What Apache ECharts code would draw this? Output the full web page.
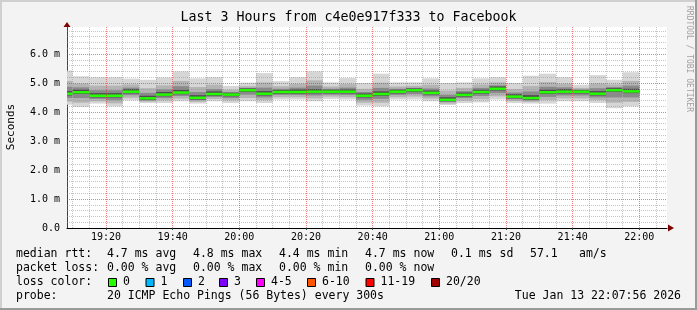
<!DOCTYPE html>
<html><head><meta charset="utf-8">
<script src="https://cdn.jsdelivr.net/npm/echarts@6/dist/echarts.min.js"></script>
<style>html,body{margin:0;padding:0;background:#f3f3f3;}#c{width:697px;height:310px;}</style>
</head><body><div id="c"></div>
<script>
// ---- data ----
const xStart = '19:08:18';
const xEnd = '22:08:18';
const stepEnds = ['19:10','19:15','19:20','19:25','19:30','19:35','19:40','19:45','19:50','19:55','20:00','20:05','20:10','20:15','20:20','20:25','20:30','20:35','20:40','20:45','20:50','20:55','21:00','21:05','21:10','21:15','21:20','21:25','21:30','21:35','21:40','21:45','21:50','21:55','22:00'];
const median  = [4.63,4.68,4.56,4.56,4.70,4.47,4.60,4.67,4.49,4.62,4.60,4.75,4.63,4.69,4.69,4.70,4.70,4.70,4.56,4.62,4.70,4.75,4.66,4.42,4.59,4.69,4.80,4.53,4.48,4.68,4.70,4.70,4.63,4.75,4.71];
const pingMax = [5.43,5.23,5.20,5.20,5.15,5.11,5.19,5.40,5.16,5.20,4.90,5.01,5.34,5.06,5.20,5.40,5.02,5.17,5.00,5.32,5.02,5.02,5.16,5.00,5.02,5.16,5.20,5.00,5.25,5.32,5.20,4.94,5.27,5.11,5.37];
const p90     = [5.07,4.98,4.91,4.91,4.95,4.82,4.92,5.07,4.86,4.94,4.77,4.89,5.02,4.89,4.97,5.09,4.88,4.96,4.80,5.01,4.88,4.90,4.94,4.74,4.83,4.95,5.02,4.79,4.90,5.03,4.97,4.83,4.98,4.95,5.07];
const p75     = [4.87,4.85,4.75,4.75,4.84,4.66,4.78,4.89,4.69,4.79,4.69,4.83,4.84,4.80,4.84,4.91,4.80,4.84,4.69,4.83,4.80,4.83,4.81,4.59,4.72,4.83,4.92,4.67,4.71,4.87,4.85,4.77,4.82,4.86,4.91];
const p60     = [4.72,4.77,4.65,4.65,4.79,4.56,4.69,4.76,4.58,4.71,4.66,4.81,4.72,4.76,4.78,4.79,4.77,4.78,4.64,4.71,4.77,4.81,4.74,4.51,4.67,4.77,4.88,4.62,4.58,4.77,4.79,4.76,4.72,4.82,4.80];
const p40     = [4.57,4.62,4.50,4.50,4.64,4.41,4.54,4.61,4.43,4.56,4.54,4.69,4.57,4.63,4.63,4.64,4.64,4.64,4.50,4.56,4.64,4.69,4.60,4.37,4.53,4.63,4.74,4.47,4.42,4.62,4.64,4.64,4.57,4.69,4.65];
const p25     = [4.48,4.48,4.45,4.41,4.58,4.40,4.48,4.55,4.41,4.52,4.48,4.60,4.50,4.59,4.59,4.57,4.60,4.59,4.42,4.45,4.59,4.62,4.54,4.35,4.48,4.55,4.65,4.44,4.40,4.52,4.57,4.57,4.50,4.50,4.50];
const p10     = [4.36,4.32,4.37,4.30,4.49,4.36,4.40,4.46,4.35,4.45,4.40,4.48,4.41,4.51,4.51,4.47,4.53,4.51,4.32,4.32,4.51,4.53,4.46,4.29,4.39,4.44,4.54,4.38,4.35,4.41,4.47,4.47,4.41,4.32,4.35];
const pingMin = [4.25,4.17,4.29,4.19,4.40,4.31,4.31,4.37,4.29,4.37,4.31,4.37,4.31,4.43,4.43,4.37,4.45,4.43,4.22,4.19,4.43,4.43,4.37,4.24,4.31,4.33,4.43,4.31,4.29,4.29,4.37,4.37,4.31,4.13,4.19];
const xTickLabels = ['19:20','19:40','20:00','20:20','20:40','21:00','21:20','21:40','22:00'];
const yTickLabels = ['0.0','1.0 m','2.0 m','3.0 m','4.0 m','5.0 m','6.0 m'];
const yMax = 6.93;
const titleText = 'Last 3 Hours from c4e0e917f333 to Facebook';
const rttStats = ['4.7 ms avg','4.8 ms max','4.4 ms min','4.7 ms now','0.1 ms sd','57.1','am/s'];
const lossStats = ['0.00 % avg','0.00 % max','0.00 % min','0.00 % now'];
const lossLegend = [['0','#26ff00'],['1','#00b8ff'],['2','#0059ff'],['3','#7e00ff'],['4-5','#ff00ff'],['6-10','#ff5500'],['11-19','#ff0000'],['20/20','#a10000']];
const probeText = '20 ICMP Echo Pings (56 Bytes) every 300s';
const dateText = 'Tue Jan 13 22:07:56 2026';

// ---- helpers ----
const toMin = s => { const p = s.split(':').map(Number); return p[0]*60 + p[1] + (p[2]||0)/60; };
const fmtMin = v => { const h = Math.floor(v/60), m = Math.round(v - h*60); return String(h).padStart(2,'0') + ':' + String(m).padStart(2,'0'); };
const xMin = toMin(xStart), xMax = toMin(xEnd);
const majorX = xTickLabels.map(toMin);
const minorX = [];
for (let t = Math.ceil(xMin/5)*5; t <= xMax; t += 5) if (t % 20 !== 0) minorX.push(t);
const majorY = [1,2,3,4,5,6];
const minorY = [];
for (let i = 1; i*0.2 < yMax; i++) if (i % 5 !== 0) minorY.push(+(i*0.2).toFixed(1));

const rows = stepEnds.map((s,i) => [toMin(s), pingMax[i], p90[i], p75[i], p60[i], p40[i], p25[i], p10[i], pingMin[i], median[i]]);
const FONT = 'DejaVu Sans Mono';
const smokeColors = ['#d6d6d6','#b4b4b4','#8a8a8a','#4e4e4e'];

function clipX(params, api, t) {
  const cs = params.coordSys;
  let x0 = api.coord([t-5, 0])[0], x1 = api.coord([t, 0])[0];
  x0 = Math.max(x0, cs.x); x1 = Math.min(x1, cs.x + cs.width);
  return [x0, x1];
}
function smokeRender(params, api) {
  const t = api.value(0);
  const [x0, x1] = clipX(params, api, t);
  const children = [];
  for (let k = 0; k < 4; k++) {
    const ya = api.coord([t, api.value(1+k)])[1];
    const yb = api.coord([t, api.value(8-k)])[1];
    children.push({type:'rect', shape:{x:x0, y:ya, width:x1-x0, height:yb-ya}, style:{fill:smokeColors[k]}});
  }
  return {type:'group', children};
}
function medianRender(params, api) {
  const t = api.value(0);
  const [x0, x1] = clipX(params, api, t);
  const y = api.coord([t, api.value(9)])[1];
  return {type:'line', shape:{x1:x0, y1:y, x2:x1, y2:y}, style:{stroke:lossLegend[0][1], lineWidth:2.5}};
}

const gridLines = [];
minorX.forEach(v => gridLines.push({xAxis:v, lineStyle:{color:'rgba(140,140,140,0.5)', type:[1,1], width:1}}));
minorY.forEach(v => gridLines.push({yAxis:v, lineStyle:{color:'rgba(140,140,140,0.5)', type:[1,1], width:1}}));
majorX.forEach(v => gridLines.push({xAxis:v, lineStyle:{color:'rgba(235,40,40,0.6)', type:[1,1], width:1}}));
majorY.forEach(v => gridLines.push({yAxis:v, lineStyle:{color:'rgba(235,40,40,0.6)', type:[1,1], width:1}}));

// ---- legend graphics ----
const g = [];
const txt = (x, y, s, extra) => g.push(Object.assign({type:'text', x, y, silent:true, style:Object.assign({text:s, fontFamily:FONT, fontSize:11.5, fill:'#000', textVerticalAlign:'middle', textAlign:'left'}, extra||{})}));
// frame
g.push({type:'rect', shape:{x:0,y:0,width:697,height:2}, style:{fill:'#d0d0d0'}, silent:true});
g.push({type:'rect', shape:{x:0,y:0,width:2,height:310}, style:{fill:'#d0d0d0'}, silent:true});
g.push({type:'rect', shape:{x:695,y:0,width:2,height:310}, style:{fill:'#9a9a9a'}, silent:true});
g.push({type:'rect', shape:{x:0,y:308,width:697,height:2}, style:{fill:'#9a9a9a'}, silent:true});
txt(348.5, 18, titleText, {fontSize:13.3, textAlign:'center'});
g.push({type:'text', x:11, y:127, rotation:Math.PI/2, silent:true, style:{text:'Seconds', fontFamily:FONT, fontSize:11, fill:'#000', textAlign:'center', textVerticalAlign:'middle'}});
g.push({type:'text', x:689, y:6, rotation:-Math.PI/2, silent:true, style:{text:'RRDTOOL / TOBI OETIKER', fontFamily:FONT, fontSize:8, fill:'#a0a0a0', textAlign:'left', textVerticalAlign:'middle'}});
const rttX = [107, 193, 279, 365, 451, 530, 579];
txt(16, 254, 'median rtt:');
rttStats.forEach((s,i) => txt(rttX[i], 254, s));
txt(16, 268, 'packet loss:');
lossStats.forEach((s,i) => txt(rttX[i], 268, s));
txt(16, 282, 'loss color:');
const boxX = [108, 145.5, 183, 219, 256, 307, 365.5, 431];
lossLegend.forEach(([lab,col],i) => {
  g.push({type:'rect', shape:{x:boxX[i]+0.5, y:278.5, width:8, height:8}, style:{fill:col, stroke:'#000', lineWidth:1}, silent:true});
  txt(boxX[i]+15, 282, lab);
});
txt(16, 296, 'probe:');
txt(107, 296, probeText);
txt(681, 296, dateText, {textAlign:'right'});

const chart = echarts.init(document.getElementById('c'), null, {renderer:'canvas'});
chart.setOption({
  animation:false,
  backgroundColor:'#f3f3f3',
  grid:{left:67, right:30, top:27, bottom:82, show:true, backgroundColor:'#ffffff', borderWidth:0},
  xAxis:{type:'value', min:xMin, max:xMax,
    axisLine:{show:true, onZero:false, lineStyle:{color:'#000', width:1}},
    axisTick:{show:true, length:2, customValues:majorX, lineStyle:{color:'#2c4d43'}},
    axisLabel:{customValues:majorX, formatter:v=>fmtMin(v), fontFamily:FONT, fontSize:10, color:'#000', margin:4},
    splitLine:{show:false}},
  yAxis:{type:'value', min:0, max:yMax, interval:1,
    axisLine:{show:true, lineStyle:{color:'#2c4d43', width:1}},
    axisTick:{show:false},
    axisLabel:{formatter:v=>(Number.isInteger(v) && yTickLabels[v]!==undefined ? yTickLabels[v] : ''), showMaxLabel:false, fontFamily:FONT, fontSize:10, color:'#000', margin:7},
    splitLine:{show:false}},
  series:[
    {type:'custom', z:2, renderItem:smokeRender, data:rows, encode:{x:0, y:[1,8]}, silent:true},
    {type:'line', z:3, data:[], silent:true,
      markLine:{silent:true, symbol:['none','none'], label:{show:false}, animation:false, data:gridLines}},
    {type:'custom', z:4, renderItem:medianRender, data:rows, encode:{x:0, y:9}, silent:true}
  ],
  graphic:g
});
// arrows at axis ends
const o = chart.convertToPixel({gridIndex:0}, [xMin, 0]);
const e = chart.convertToPixel({gridIndex:0}, [xMax, yMax]);
g.push({type:'polygon', silent:true, shape:{points:[[e[0]+1,o[1]-3.5],[e[0]+7,o[1]],[e[0]+1,o[1]+3.5]]}, style:{fill:'#7f0000'}});
g.push({type:'polygon', silent:true, shape:{points:[[o[0]-3.5,e[1]+0],[o[0],e[1]-5],[o[0]+3.5,e[1]+0]]}, style:{fill:'#7f0000'}});
chart.setOption({graphic:g});
</script></body></html>
